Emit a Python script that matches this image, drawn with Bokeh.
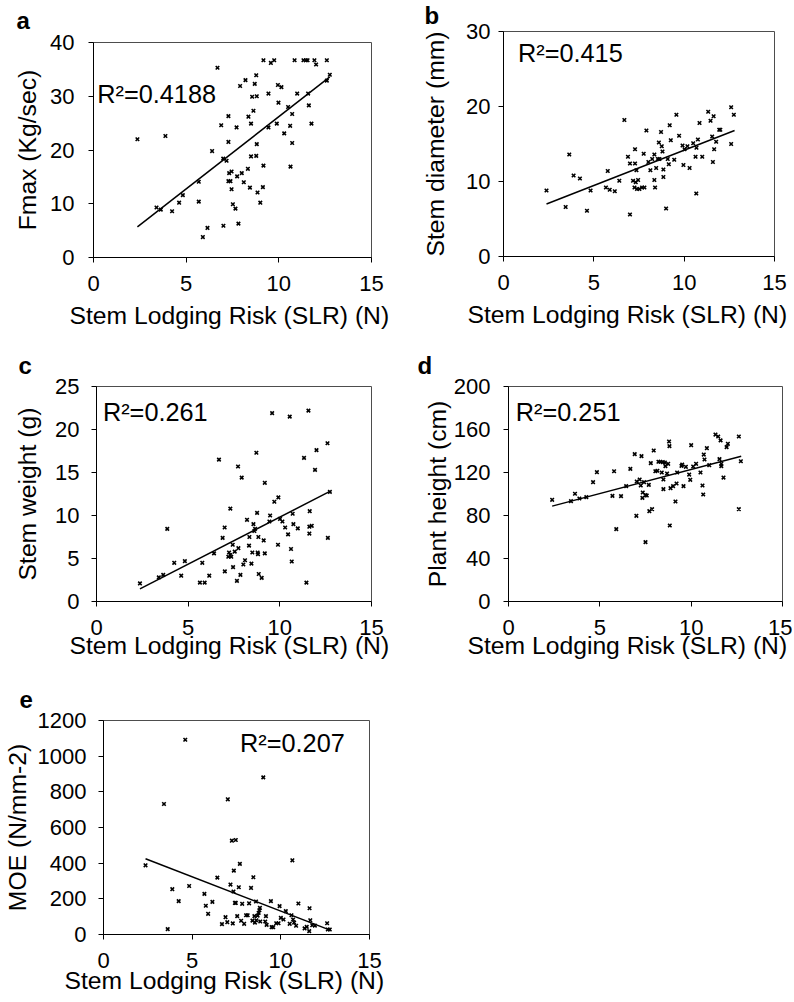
from bokeh.plotting import figure
from bokeh.layouts import column, row
from bokeh.models import Range1d, FixedTicker, Label, Title
from bokeh.embed import file_html
from bokeh.resources import INLINE

# ---------------- data ----------------
x_title = "Stem Lodging Risk (SLR) (N)"
x_ticks = [0, 5, 10, 15]

a_x = [2.37, 3.40, 3.63, 3.88, 4.24, 4.62, 4.82, 5.68, 5.68, 5.90, 6.15, 6.40, 6.69, 6.89, 7.00, 7.01, 7.18, 7.28, 7.28, 7.28,
       7.32, 7.39, 7.45, 7.45, 7.52, 7.66, 7.72, 7.75, 7.82, 7.91, 8.00, 8.11, 8.20, 8.33, 8.36, 8.44, 8.50, 8.50, 8.56, 8.63,
       8.70, 8.78, 8.78, 8.81, 8.81, 8.85, 9.00, 9.14, 9.17, 9.17, 9.44, 9.44, 9.57, 9.75, 9.89, 9.95, 9.98, 10.14, 10.29, 10.50,
       10.61, 10.63, 10.72, 10.72, 10.85, 10.99, 11.33, 11.46, 11.55, 11.58, 11.62, 11.76, 11.92, 12.01, 12.59, 12.59, 12.75]
a_y = [22.0, 9.3, 8.9, 22.6, 8.6, 10.2, 11.6, 14.1, 10.4, 3.8, 5.5, 19.8, 35.3, 24.6, 18.4, 5.9, 18.0, 26.3, 21.5, 14.2,
       15.7, 14.2, 16.0, 12.7, 9.9, 9.1, 24.2, 15.1, 6.3, 31.9, 15.7, 14.0, 33.0, 16.5, 26.2, 13.0, 24.9, 18.8, 29.9, 27.3,
       32.3, 33.9, 18.9, 30.0, 21.1, 12.1, 10.2, 13.1, 17.1, 36.7, 24.2, 30.5, 36.2, 36.7, 24.9, 32.1, 28.8, 31.7, 23.1, 28.0,
       24.5, 16.9, 26.7, 21.3, 36.7, 30.5, 36.7, 36.7, 36.7, 30.5, 28.3, 24.9, 36.7, 35.9, 36.7, 32.9, 34.0]
a_fit_x = [2.37, 12.75]
a_fit_y = [5.7, 33.6]

b_x = [2.38, 3.44, 3.64, 3.88, 4.23, 4.62, 4.82, 5.67, 5.77, 5.88, 6.16, 6.41, 6.69, 6.89, 7.00, 7.00, 7.17, 7.32, 7.45, 7.25,
       7.39, 7.52, 7.67, 7.80, 7.28, 7.28, 7.36, 7.76, 7.91, 8.02, 8.13, 8.23, 8.35, 8.35, 8.39, 8.45, 8.54, 8.60, 8.63, 8.72,
       8.76, 8.80, 8.85, 8.85, 9.00, 9.09, 9.15, 9.20, 9.26, 9.45, 9.57, 9.72, 9.91, 9.96, 10.02, 10.18, 10.30, 10.50, 10.63, 10.67,
       10.68, 10.76, 10.85, 11.00, 11.33, 11.46, 11.55, 11.59, 11.63, 11.66, 11.77, 11.94, 12.00, 12.60, 12.60, 12.75]
b_y = [8.8, 6.6, 13.6, 10.8, 10.4, 6.1, 8.8, 9.2, 11.4, 8.9, 8.7, 10.1, 18.2, 13.3, 12.4, 5.6, 10.1, 9.9, 10.2, 9.2,
       9.0, 9.0, 9.2, 9.2, 12.4, 14.3, 11.5, 13.7, 16.8, 12.6, 11.5, 13.0, 13.6, 10.2, 9.2, 11.8, 13.0, 15.2, 13.0, 16.6,
       14.7, 14.0, 11.6, 10.6, 6.4, 13.0, 12.3, 17.5, 15.5, 12.9, 18.9, 16.1, 14.8, 12.2, 14.3, 14.7, 11.8, 15.1, 13.3, 8.4,
       14.5, 15.6, 17.8, 13.3, 19.3, 18.1, 16.0, 12.6, 18.7, 14.3, 15.3, 16.9, 16.9, 19.9, 15.0, 18.9]
b_fit_x = [2.38, 12.79]
b_fit_y = [7.0, 16.8]

c_x = [2.37, 3.40, 3.64, 3.86, 4.24, 4.62, 4.82, 5.64, 5.77, 5.90, 6.15, 6.41, 6.68, 6.88, 6.99, 7.00, 7.19, 7.23, 7.30, 7.30,
       7.35, 7.43, 7.45, 7.54, 7.66, 7.72, 7.74, 7.85, 7.92, 8.01, 8.10, 8.21, 8.34, 8.32, 8.45, 8.50, 8.56, 8.61, 8.65, 8.72,
       8.76, 8.79, 8.83, 8.81, 8.85, 9.01, 9.12, 9.18, 9.18, 9.43, 9.47, 9.58, 9.70, 9.90, 9.92, 10.01, 10.14, 10.29, 10.45, 10.54,
       10.61, 10.65, 10.70, 10.74, 10.98, 11.32, 11.45, 11.56, 11.63, 11.61, 11.61, 11.74, 11.92, 12.00, 12.60, 12.62, 12.73]
c_y = [2.1, 2.8, 3.1, 8.45, 4.5, 3.0, 4.7, 2.2, 4.5, 2.2, 3.0, 5.6, 16.5, 7.4, 8.6, 3.5, 5.2, 5.7, 10.8, 5.4,
       5.2, 6.6, 4.0, 5.8, 2.4, 15.7, 6.2, 3.1, 14.4, 4.3, 4.8, 9.5, 7.5, 6.5, 4.4, 5.7, 9.0, 8.2, 8.45, 17.3,
       10.3, 5.7, 7.5, 5.5, 3.2, 2.75, 7.1, 13.8, 5.6, 9.3, 10.0, 21.9, 11.6, 6.6, 12.1, 9.6, 9.3, 8.6, 7.8, 21.5,
       6.1, 4.65, 10.2, 9.0, 8.5, 16.7, 2.2, 22.2, 10.5, 7.9, 8.7, 8.8, 15.3, 17.6, 18.4, 7.4, 12.75]
c_fit_x = [2.37, 12.73]
c_fit_y = [1.47, 12.8]

d_x = [2.39, 3.42, 3.64, 3.88, 4.26, 4.63, 4.84, 5.69, 5.78, 5.90, 6.16, 6.44, 6.67, 6.91, 7.00, 7.02, 7.18, 7.24, 7.28, 7.35,
       7.33, 7.42, 7.50, 7.50, 7.57, 7.68, 7.71, 7.79, 7.86, 7.95, 8.04, 8.15, 8.21, 8.32, 8.39, 8.45, 8.48, 8.48, 8.56, 8.59,
       8.68, 8.74, 8.79, 8.81, 8.83, 8.87, 9.01, 9.14, 9.20, 9.23, 9.47, 9.51, 9.58, 9.71, 9.89, 9.95, 10.00, 10.11, 10.27, 10.51,
       10.62, 10.66, 10.69, 10.73, 10.86, 10.99, 11.33, 11.48, 11.55, 11.61, 11.65, 11.65, 11.77, 11.94, 12.01, 12.61, 12.61, 12.72]
d_y = [94.6, 93.3, 100.2, 95.8, 97.1, 111.0, 120.3, 98.3, 121.2, 67.3, 98.0, 107.3, 123.4, 137.1, 79.7, 111.6, 113.5, 107.9, 135.2, 101.4,
       96.4, 111.0, 98.9, 55.2, 98.6, 108.5, 84.0, 128.7, 85.9, 140.5, 121.2, 121.6, 130.0, 130.0, 120.0, 129.6, 113.5, 104.5, 129.3, 125.9,
       119.1, 128.1, 148.8, 144.5, 70.7, 105.4, 107.3, 93.0, 109.8, 120.0, 126.2, 127.4, 107.3, 125.3, 118.1, 113.2, 145.4, 125.6, 128.1, 120.0,
       107.9, 99.5, 136.7, 132.1, 142.6, 126.8, 155.3, 153.5, 132.4, 149.9, 125.9, 128.1, 115.3, 143.6, 146.7, 153.5, 85.9, 130.5]
d_fit_x = [2.39, 12.74]
d_fit_y = [88.7, 135.2]

e_x = [2.37, 3.41, 3.62, 3.88, 4.24, 4.61, 4.83, 5.69, 5.77, 5.90, 6.14, 6.42, 6.68, 6.88, 6.98, 7.01, 7.16, 7.24, 7.29, 7.33,
       7.35, 7.41, 7.46, 7.46, 7.54, 7.63, 7.69, 7.76, 7.82, 7.93, 8.04, 8.13, 8.21, 8.32, 8.40, 8.45, 8.51, 8.54, 8.60, 8.62,
       8.69, 8.75, 8.79, 8.82, 8.84, 9.01, 9.12, 9.16, 9.20, 9.44, 9.48, 9.57, 9.74, 9.87, 9.93, 10.00, 10.15, 10.28, 10.50, 10.60,
       10.65, 10.69, 10.75, 10.86, 10.99, 11.34, 11.46, 11.60, 11.62, 11.66, 11.77, 11.92, 12.61, 12.65, 12.76]
e_y = [388, 732, 30, 254, 187, 1092, 272, 228, 161, 116, 183, 319, 58, 97, 69, 758, 280, 526, 62, 241,
       358, 177, 530, 177, 103, 265, 396, 77, 172, 60, 108, 108, 175, 261, 78, 321, 103, 67, 185, 80,
       106, 121, 136, 149, 73, 881, 73, 103, 54, 187, 41, 41, 63, 63, 159, 93, 84, 131, 60, 108,
       416, 84, 67, 49, 174, 34, 43, 19, 147, 80, 52, 50, 63, 28, 28]
e_fit_x = [2.37, 12.74]
e_fit_y = [425, 26]

panel_letters = ["a", "b", "c", "d", "e"]
y_titles = ["Fmax (Kg/sec)", "Stem diameter (mm)", "Stem weight (g)", "Plant height (cm)", "MOE (N/mm-2)"]
r2_texts = ["R\u00b2=0.4188", "R\u00b2=0.415", "R\u00b2=0.261", "R\u00b2=0.251", "R\u00b2=0.207"]
y_maxes = [40, 30, 25, 200, 1200]
y_tick_lists = [[0, 10, 20, 30, 40], [0, 10, 20, 30], [0, 5, 10, 15, 20, 25],
                [0, 40, 80, 120, 160, 200], [0, 200, 400, 600, 800, 1000, 1200]]

FONT = "Liberation Sans"


def make_panel(xs, ys, fx, fy, ymax, yticks, ytitle, letter, r2, r2_pos, letter_offset,
               width, height, left, right, top, bottom, ylab_standoff, xlab_standoff,
               xtitle_offset, xtitle_standoff, letter_standoff):
    p = figure(width=width, height=height, x_range=Range1d(0, 15), y_range=Range1d(0, ymax),
               output_backend="svg", toolbar_location=None,
               min_border_left=left, min_border_right=right, min_border_top=top, min_border_bottom=bottom)
    if "frame_align" in p.properties():
        p.frame_align = False
    p.background_fill_color = "white"
    p.border_fill_color = "white"
    p.outline_line_color = "#4d4d4d"
    p.outline_line_width = 1
    p.xgrid.visible = False
    p.ygrid.visible = False
    for ax in (p.xaxis, p.yaxis):
        ax.axis_line_color = "black"
        ax.axis_line_width = 1
        ax.major_tick_line_color = "black"
        ax.major_tick_in = 0
        ax.major_tick_out = 5
        ax.minor_tick_line_color = None
        ax.major_label_text_font = FONT
        ax.major_label_text_font_size = "22px"
        ax.major_label_text_color = "black"
        ax.axis_label_text_font = FONT
        ax.axis_label_text_font_size = "24.7px"
        ax.axis_label_text_font_style = "normal"
        ax.axis_label_text_color = "black"
    p.xaxis.ticker = FixedTicker(ticks=x_ticks)
    p.yaxis.ticker = FixedTicker(ticks=yticks)
    p.yaxis.axis_label = ytitle
    p.yaxis.major_label_standoff = ylab_standoff[0]
    p.yaxis.axis_label_standoff = ylab_standoff[1]
    p.xaxis.major_label_standoff = xlab_standoff

    # x-axis title, placed below the axis so that it can be shifted like the reference
    p.add_layout(Title(text=x_title, align="left", offset=xtitle_offset, standoff=xtitle_standoff,
                       vertical_align="top", text_font=FONT, text_font_size="24.7px",
                       text_font_style="normal", text_color="black"), "below")

    # panel letter as the figure title
    p.title.text = letter
    p.title.align = "left"
    p.title.vertical_align = "top"
    p.title.offset = letter_offset
    p.title.standoff = letter_standoff
    p.title.text_font = FONT
    p.title.text_font_size = "24px"
    p.title.text_font_style = "bold"
    p.title.text_color = "black"

    p.scatter(xs, ys, marker="x", size=5, line_width=1.6, color="black")
    p.line(fx, fy, line_color="black", line_width=1.5)

    p.add_layout(Label(x=r2_pos[0], y=r2_pos[1], text=r2, text_font=FONT, text_font_size="25.3px",
                       text_color="black", text_baseline="alphabetic", text_align="left"))
    return p


pa = make_panel(a_x, a_y, a_fit_x, a_fit_y, y_maxes[0], y_tick_lists[0], y_titles[0], panel_letters[0], r2_texts[0],
                (0.2, 30.4), -77, 410, 346, 93, 39, 42, 89, (14, 6), 13, -24, 16, 13)
pb = make_panel(b_x, b_y, b_fit_x, b_fit_y, y_maxes[1], y_tick_lists[1], y_titles[1], panel_letters[1], r2_texts[1],
                (0.8, 27.1), -79, 382, 346, 93, 18, 31, 90, (8, 14), 13, -36, 16, 2)
pc = make_panel(c_x, c_y, c_fit_x, c_fit_y, y_maxes[2], y_tick_lists[2], y_titles[2], panel_letters[2], r2_texts[2],
                (0.35, 22.0), -78, 410, 322, 96, 39, 40, 67, (12, 11), 13, -27, -12, 11)
pd_ = make_panel(d_x, d_y, d_fit_x, d_fit_y, y_maxes[3], y_tick_lists[3], y_titles[3], panel_letters[3], r2_texts[3],
                 (0.4, 176.3), -91, 382, 322, 98, 10, 40, 67, (13, 0), 13, -41, -12, 11)
pe = make_panel(e_x, e_y, e_fit_x, e_fit_y, y_maxes[4], y_tick_lists[4], y_titles[4], panel_letters[4], r2_texts[4],
                (7.7, 1075), -84, 410, 332, 101, 41, 52, 66, (12, 4), 13, -39, -8, 22)

layout = column(row(pa, pb), row(pc, pd_), pe)
open("out.html", "w").write(file_html(layout, INLINE))
